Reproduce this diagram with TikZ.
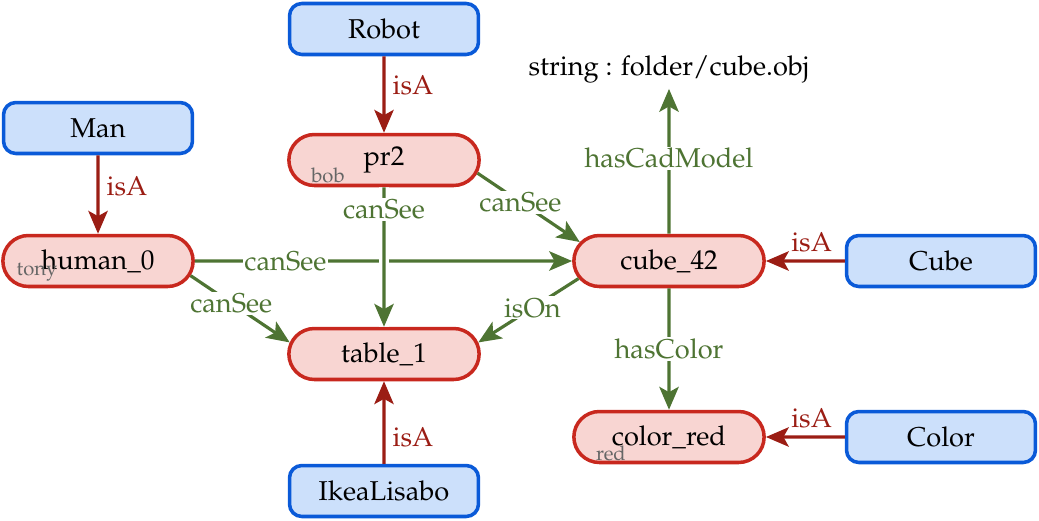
\documentclass[tikz,border=0pt]{standalone}
\usepackage[T1]{fontenc}
\usepackage{mathpazo}
\usepackage{xcolor}
\usetikzlibrary{arrows.meta,positioning,calc,shapes.misc}

\definecolor{clsfill}{HTML}{CCE0FB}
\definecolor{clsdraw}{HTML}{0A5AD8}
\definecolor{instfill}{HTML}{F8D5D2}
\definecolor{instdraw}{HTML}{C8281E}
\definecolor{relgreen}{HTML}{4E7433}
\definecolor{isared}{HTML}{9B1D14}

\begin{document}
\begin{tikzpicture}[x=0.02cm,y=0.02cm,
  every node/.style={font=\fontsize{15.5}{18}\selectfont},
  cls/.style={draw=clsdraw,fill=clsfill,line width=2pt,rounded corners=7pt,minimum width=3.78cm,minimum height=1.02cm},
  inst/.style={draw=instdraw,fill=instfill,line width=2pt,rounded rectangle,minimum width=4.04cm,minimum height=1.02cm},
  nick/.style={font=\fontsize{11.5}{13}\selectfont,text=black!60},
  rel/.style={-{Stealth[length=13pt,width=11pt,inset=3pt]},line width=1.8pt,relgreen},
  isa/.style={-{Stealth[length=13pt,width=11pt,inset=3pt]},line width=1.8pt,isared},
  lbl/.style={fill=white,inner sep=1pt,text=relgreen},
  isalbl/.style={inner sep=4pt,text=isared}]
 \useasboundingbox (0,0) rectangle (1039,-521);
 % classes
 \node[cls] (robot) at (384,-29)  {Robot};
 \node[cls] (man)   at (98,-128)  {Man};
 \node[cls] (cube)  at (941,-261) {Cube};
 \node[cls] (color) at (941,-437) {Color};
 \node[cls] (ikea)  at (384,-491) {IkeaLisabo};
 % instances
 \node[inst] (pr2)      at (384,-160) {pr2};
 \node[inst] (human)    at (98,-261)  {human\_0};
 \node[inst] (cube42)   at (669,-261) {cube\_42};
 \node[inst] (table)    at (384,-354) {table\_1};
 \node[inst] (colorred) at (669,-437) {color\_red};
 \node (model) at (669,-69) {string : folder/cube.obj};
 \node[nick] (bob)  at (328,-175) {bob};
 \node[nick] (tony) at (37,-272)  {tony};
 \node[nick] (red)  at (611,-453) {red};
 % isA
 \draw[isa] (robot) -- node[isalbl,right,pos=0.38] {isA} (pr2);
 \draw[isa] (man) -- node[isalbl,right,pos=0.4] {isA} (human);
 \draw[isa] (cube) -- node[isalbl,above,pos=0.42] {isA} (cube42);
 \draw[isa] (color) -- node[isalbl,above,pos=0.42] {isA} (colorred);
 \draw[isa] (ikea) -- node[isalbl,right,pos=0.32] {isA} (table);
 % relations
 \draw[rel] (human) -- node[lbl,pos=0.24] {canSee} (cube42);
 \draw[rel,preaction={draw,white,line width=5.5pt,-}] (pr2) -- node[lbl,pos=0.16] {canSee} (table);
 \draw[rel] (pr2.-8) -- node[lbl,pos=0.42] {canSee} (cube42.168);
 \draw[rel] (human.-9) -- node[lbl,pos=0.41] {canSee} (table.173);
 \draw[rel] (cube42.191) -- node[lbl,pos=0.46] {isOn} (table.7);
 \draw[rel] (cube42) -- node[lbl,pos=0.52] {hasCadModel} (model);
 \draw[rel] (cube42) -- node[lbl,pos=0.5] {hasColor} (colorred);
\end{tikzpicture}
\end{document}
